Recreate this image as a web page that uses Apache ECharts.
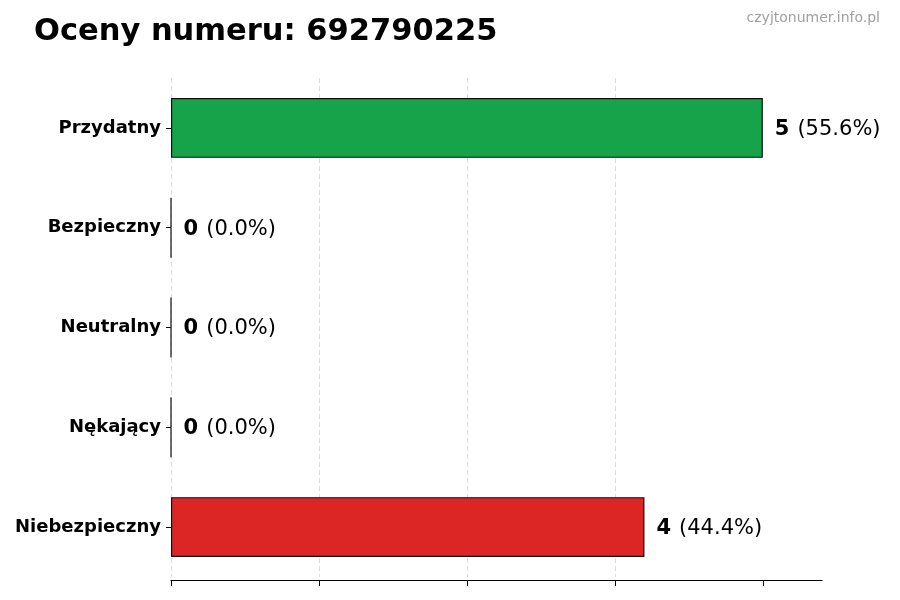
<!DOCTYPE html>
<html>
<head>
<meta charset="utf-8">
<script src="https://cdn.jsdelivr.net/npm/echarts@6/dist/echarts.min.js"></script>
<style>
  html, body { margin: 0; padding: 0; background: #fff; }
  #chart { width: 900px; height: 600px; }
</style>
</head>
<body>
<div id="chart"></div>
<script>
// data
const categories = ['Przydatny', 'Bezpieczny', 'Neutralny', 'Nękający', 'Niebezpieczny'];
const counts = [5, 0, 0, 0, 4];
const barColors = ['#16a34a', '#9ca3af', '#6b7280', '#f97316', '#dc2626'];
const xTicks = [0, 1.25, 2.5, 3.75, 5];
const xMax = 5.5;

const total = counts.reduce((a, b) => a + b, 0);
const font = 'DejaVu Sans';

const chart = echarts.init(document.getElementById('chart'));

const option = {
    animation: false,
    backgroundColor: '#fff',
    title: [
        {
            text: 'Oceny numeru: 692790225',
            left: 29,
            top: 12,
            textStyle: { fontFamily: font, fontSize: 30.5, fontWeight: 'bold', color: '#000' }
        },
        {
            text: 'czyjtonumer.info.pl',
            right: 15,
            top: 6,
            textStyle: { fontFamily: font, fontSize: 14, fontWeight: 'normal', color: '#a0a0a0' }
        }
    ],
    grid: { left: 171, right: 78, top: 78, bottom: 23 },
    xAxis: {
        type: 'value',
        min: 0,
        max: xMax,
        offset: 3,
        axisLine: { show: true, lineStyle: { color: '#000', width: 1.2 } },
        axisTick: { show: true, length: 6, customValues: xTicks, lineStyle: { color: '#000' } },
        axisLabel: { show: false, customValues: xTicks },
        splitLine: {
            show: true,
            showMaxLine: false,
            lineStyle: { color: '#d0d0d0', type: [5, 3], width: 0.8 }
        }
    },
    yAxis: {
        type: 'category',
        data: categories,
        inverse: true,
        axisLine: { show: false },
        axisTick: { show: true, alignWithLabel: true, length: 5, lineStyle: { color: '#000' } },
        axisLabel: {
            margin: 10,
            padding: [3, 0, 0, 0],
            fontFamily: font,
            fontSize: 18,
            fontWeight: 'bold',
            color: '#000'
        },
        splitLine: { show: false }
    },
    series: [
        {
            type: 'bar',
            barWidth: '60%',
            data: counts.map((v, i) => ({
                value: v,
                itemStyle: { color: barColors[i] }
            })),
            itemStyle: { borderColor: '#111', borderWidth: 1.2 },
            label: {
                show: true,
                position: 'right',
                distance: 12,
                padding: [3, 0, 0, 0],
                formatter: p => '{b|' + p.value + '}{g|}{n|(' + (p.value / total * 100).toFixed(1) + '%)}',
                rich: {
                    b: { fontFamily: font, fontSize: 21, fontWeight: 'bold', color: '#000' },
                    g: { width: 8 },
                    n: { fontFamily: font, fontSize: 21, color: '#000' }
                }
            }
        }
    ]
};

chart.setOption(option);
</script>
</body>
</html>
